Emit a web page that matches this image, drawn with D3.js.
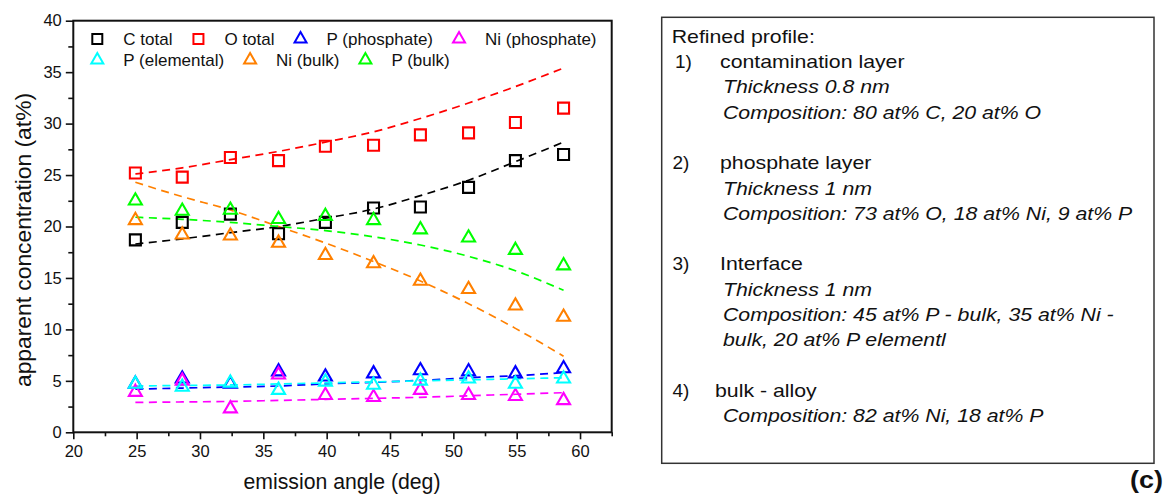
<!DOCTYPE html>
<html>
<head>
<meta charset="utf-8">
<script src="https://cdn.jsdelivr.net/npm/d3@7"></script>
<style>
  body { margin: 0; background: #fff; }
  text { font-family: "Liberation Sans", Arial, sans-serif; fill: #111; }
</style>
</head>
<body>
<svg id="chart" width="1166" height="494"></svg>
<script>
// emission angles (deg)
const angles = [24.9, 28.6, 32.4, 36.2, 39.9, 43.7, 47.4, 51.2, 54.9, 58.7];

// measured apparent concentrations (at%)
const cTotal = [18.7, 20.4, 21.2, 19.3, 20.4, 21.8, 21.9, 23.8, 26.4, 27.0];
const oTotal = [25.2, 24.8, 26.7, 26.4, 27.8, 27.9, 28.9, 29.1, 30.1, 31.5];
const pPhosphate = [4.7, 5.2, 4.7, 5.9, 5.4, 5.7, 6.0, 5.9, 5.7, 6.2];
const niPhosphate = [3.9, 5.0, 2.3, 5.6, 3.6, 3.4, 4.1, 3.6, 3.5, 3.1];
const pElemental = [4.7, 4.4, 4.8, 4.1, 4.9, 4.6, 5.0, 5.2, 4.7, 5.2];
const niBulk = [20.6, 19.2, 19.1, 18.4, 17.2, 16.4, 14.7, 13.9, 12.3, 11.2];
const pBulk = [22.5, 21.5, 21.6, 20.7, 21.0, 20.6, 19.7, 18.9, 17.7, 16.2];

// simulated (refined profile) curves, read at the same angles
const cTotalFit = [18.3, 18.8, 19.4, 20.0, 20.8, 21.7, 23.0, 24.5, 26.3, 28.2];
const oTotalFit = [25.1, 25.7, 26.5, 27.3, 28.2, 29.2, 30.5, 32.0, 33.6, 35.4];
const pPhosphateFit = [4.2, 4.3, 4.4, 4.5, 4.7, 4.85, 5.05, 5.3, 5.5, 5.8];
const niPhosphateFit = [2.9, 2.95, 3.0, 3.1, 3.2, 3.3, 3.4, 3.55, 3.7, 3.85];
const pElementalFit = [4.5, 4.55, 4.6, 4.7, 4.8, 4.9, 5.0, 5.1, 5.2, 5.3];
const niBulkFit = [24.3, 22.9, 21.6, 20.0, 18.4, 16.6, 14.7, 12.5, 10.1, 7.4];
const pBulkFit = [20.9, 20.7, 20.4, 20.0, 19.6, 19.0, 18.2, 17.1, 15.7, 13.8];

const seriesNames = ['C total', 'O total', 'P (phosphate)', 'Ni (phosphate)', 'P (elemental)', 'Ni (bulk)', 'P (bulk)'];
const seriesColors = ['#000000', '#ff0000', '#0000ff', '#ff00ff', '#00ffff', '#ff8000', '#00ff00'];
const seriesShapes = ['square', 'square', 'triangle', 'triangle', 'triangle', 'triangle', 'triangle'];
const seriesValues = [cTotal, oTotal, pPhosphate, niPhosphate, pElemental, niBulk, pBulk];
const seriesFits = [cTotalFit, oTotalFit, pPhosphateFit, niPhosphateFit, pElementalFit, niBulkFit, pBulkFit];
const legendRows = [[0, 1, 2, 3], [4, 5, 6]];

const xMajorTicks = [20, 25, 30, 35, 40, 45, 50, 55, 60];
const yMajorTicks = [0, 5, 10, 15, 20, 25, 30, 35, 40];

// text of the side box: [number, text, italic]
const profileLines = [
  ['', 'Refined profile:', false],
  ['1)', 'contamination layer', false],
  ['', 'Thickness 0.8 nm', true],
  ['', 'Composition: 80 at% C, 20 at% O', true],
  null,
  ['2)', 'phosphate layer', false],
  ['', 'Thickness 1 nm', true],
  ['', 'Composition: 73 at% O, 18 at% Ni, 9 at% P', true],
  null,
  ['3)', 'Interface', false],
  ['', 'Thickness 1 nm', true],
  ['', 'Composition: 45 at% P - bulk, 35 at% Ni -', true],
  ['', 'bulk, 20 at% P elementl', true],
  null,
  ['4)', 'bulk - alloy', false],
  ['', 'Composition: 82 at% Ni, 18 at% P', true]
];

const svg = d3.select('#chart');
svg.append('rect').attr('width', 1166).attr('height', 494).attr('fill', '#fff');

// plot area
const plot = { left: 73.3, right: 611.7, top: 20.7, bottom: 432.3 };

const x = d3.scaleLinear().domain([20, 62.5]).range([plot.left, plot.right]);
const y = d3.scaleLinear().domain([0, 40]).range([plot.bottom, plot.top]);

// minor ticks
svg.append('g')
  .attr('transform', `translate(0,${plot.bottom})`)
  .call(d3.axisBottom(x).tickValues(xMajorTicks.map(d => d + 2.5)).tickSize(4).tickSizeOuter(0).tickFormat(''))
  .call(g => g.select('.domain').remove())
  .call(g => g.selectAll('line').attr('stroke', '#111').attr('stroke-width', 1.6));
svg.append('g')
  .attr('transform', `translate(${plot.left},0)`)
  .call(d3.axisLeft(y).tickValues(yMajorTicks.slice(0, -1).map(d => d + 2.5)).tickSize(5).tickSizeOuter(0).tickFormat(''))
  .call(g => g.select('.domain').remove())
  .call(g => g.selectAll('line').attr('stroke', '#111').attr('stroke-width', 1.6));

// major ticks + labels
svg.append('g')
  .attr('transform', `translate(0,${plot.bottom})`)
  .call(d3.axisBottom(x).tickValues(xMajorTicks).tickSize(7).tickSizeOuter(0).tickFormat(d3.format('d')))
  .call(g => g.select('.domain').remove())
  .call(g => g.selectAll('line').attr('stroke', '#111').attr('stroke-width', 1.6))
  .call(g => g.selectAll('text').attr('y', 13).attr('font-size', 16.5).attr('font-family', null).attr('fill', '#111'));
svg.append('g')
  .attr('transform', `translate(${plot.left},0)`)
  .call(d3.axisLeft(y).tickValues(yMajorTicks).tickSize(7.5).tickSizeOuter(0).tickPadding(4).tickFormat(d3.format('d')))
  .call(g => g.select('.domain').remove())
  .call(g => g.selectAll('line').attr('stroke', '#111').attr('stroke-width', 1.6))
  .call(g => g.selectAll('text').attr('font-size', 16.5).attr('font-family', null).attr('fill', '#111'));

// frame
svg.append('rect')
  .attr('x', plot.left).attr('y', plot.top)
  .attr('width', plot.right - plot.left).attr('height', plot.bottom - plot.top)
  .attr('fill', 'none').attr('stroke', '#111').attr('stroke-width', 2);

// axis titles
svg.append('text')
  .attr('transform', `translate(31,240) rotate(-90)`)
  .attr('text-anchor', 'middle')
  .attr('font-size', 21.5)
  .attr('textLength', 294).attr('lengthAdjust', 'spacingAndGlyphs')
  .text('apparent concentration (at%)');
svg.append('text')
  .attr('x', 342).attr('y', 488.5)
  .attr('text-anchor', 'middle')
  .attr('font-size', 21.5)
  .attr('textLength', 197).attr('lengthAdjust', 'spacingAndGlyphs')
  .text('emission angle (deg)');

// fit curves
const line = d3.line()
  .x(d => x(d[0]))
  .y(d => y(d[1]))
  .curve(d3.curveMonotoneX);

seriesFits.forEach((fit, i) => {
  svg.append('path')
    .attr('d', line(angles.map((a, k) => [a, fit[k]])))
    .attr('fill', 'none')
    .attr('stroke', seriesColors[i])
    .attr('stroke-width', 1.7)
    .attr('stroke-dasharray', '8,5.5');
});

// markers
const markerPath = (shape, s) => shape === 'square'
  ? d3.symbol(d3.symbolSquare, s * s)()
  : d3.symbol(d3.symbolTriangle, Math.sqrt(3) / 4 * s * s)();

seriesValues.forEach((vals, i) => {
  const s = seriesShapes[i] === 'square' ? 11 : 13;
  svg.append('g').selectAll('path')
    .data(vals)
    .join('path')
    .attr('transform', (d, k) => `translate(${x(angles[k])},${y(d)})`)
    .attr('d', markerPath(seriesShapes[i], s))
    .attr('fill', 'none')
    .attr('stroke', seriesColors[i])
    .attr('stroke-width', 2.1);
});

// legend
const legend = svg.append('g');
legendRows.forEach((row, r) => {
  let cx = 97.3;
  const cy = 39 + r * 21;
  row.forEach(i => {
    legend.append('path')
      .attr('transform', `translate(${cx},${cy})`)
      .attr('d', markerPath(seriesShapes[i], seriesShapes[i] === 'square' ? 10 : 12))
      .attr('fill', 'none')
      .attr('stroke', seriesColors[i])
      .attr('stroke-width', 2);
    const t = legend.append('text')
      .attr('x', cx + 26).attr('y', cy + 6)
      .attr('font-size', 17)
      .text(seriesNames[i]);
    cx = cx + 26 + t.node().getComputedTextLength() + 26;
  });
});

// side box
svg.append('rect')
  .attr('x', 661.7).attr('y', 17.3)
  .attr('width', 492.3).attr('height', 446)
  .attr('fill', 'none').attr('stroke', '#333').attr('stroke-width', 1.5);

const box = svg.append('g');
profileLines.forEach((ln, i) => {
  if (!ln) return;
  const by = 42.7 + i * 25.3;
  if (ln[0]) {
    box.append('text').attr('x', i === 1 ? 675 : 672.5).attr('y', by)
      .attr('font-size', 19).text(ln[0]);
  }
  let tx = ln[2] ? 723 : 720;
  if (i === 0) tx = 671.7;
  if (ln[1] === 'bulk - alloy') tx = 715;
  const t = box.append('text')
    .attr('x', tx).attr('y', by)
    .attr('font-size', 19)
    .attr('font-style', ln[2] ? 'italic' : null)
    .text(ln[1]);
  const w = t.node().getComputedTextLength();
  t.attr('textLength', w * 1.12).attr('lengthAdjust', 'spacingAndGlyphs');
});

// panel label
svg.append('text')
  .attr('x', 1163).attr('y', 488)
  .attr('text-anchor', 'end')
  .attr('font-size', 24).attr('font-weight', 'bold')
  .attr('textLength', 33).attr('lengthAdjust', 'spacingAndGlyphs')
  .text('(c)');
</script>
</body>
</html>
